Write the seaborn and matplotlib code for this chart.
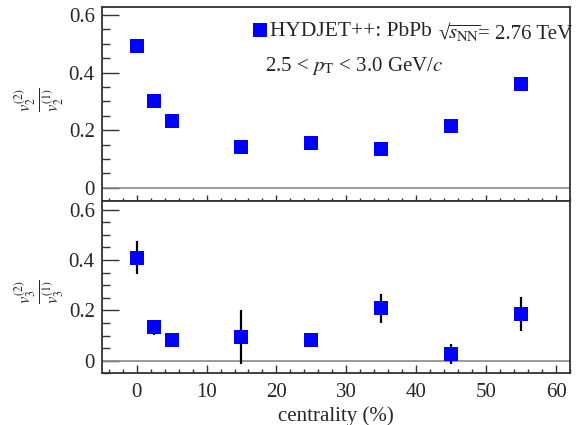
import numpy as np
import pandas as pd
import matplotlib
matplotlib.use("Agg")
import matplotlib.pyplot as plt
import seaborn as sns
from matplotlib.ticker import MultipleLocator

# values
centrality = [0, 2.5, 5, 15, 25, 35, 45, 55]
ratio_v2 = [0.491, 0.300, 0.231, 0.143, 0.157, 0.136, 0.216, 0.359]
err_v2 = [0.004, 0.004, 0.004, 0.004, 0.004, 0.004, 0.004, 0.004]
ratio_v3 = [0.410, 0.133, 0.083, 0.095, 0.082, 0.208, 0.027, 0.185]
err_v3 = [0.065, 0.030, 0.010, 0.108, 0.006, 0.058, 0.041, 0.067]

xticks = [0, 10, 20, 30, 40, 50, 60]
yticks = [0, 0.2, 0.4, 0.6]

legend_label = "HYDJET++: PbPb"
root_sign = "\u221a"
snn_label = r"$\overline{s_{\rm NN}}$"
energy_label = "= 2.76 TeV"
pt_label = r"2.5 < $p_{\rm T}$ < 3.0 GeV/$c$"

sns.set_theme(style="ticks")
plt.rcParams["font.family"] = ["Liberation Serif", "DejaVu Serif"]
plt.rcParams["mathtext.fontset"] = "stix"

df = pd.DataFrame({"centrality": centrality, "v2": ratio_v2, "e2": err_v2,
                   "v3": ratio_v3, "e3": err_v3})

W, H = 581, 425
fig = plt.figure(figsize=(W / 100, H / 100), dpi=100)
left, right = 101.7 / W, 570 / W
ax1 = fig.add_axes([left, 1 - 200.7 / H, right - left, (200.7 - 6.7) / H])
ax2 = fig.add_axes([left, 1 - 373.3 / H, right - left, (373.3 - 200.7) / H])

blue = "#0000ff"
frame = "#333333"

for ax, col, ecol, ylim in [(ax1, "v2", "e2", (-0.045, 0.629)),
                           (ax2, "v3", "e3", (-0.05, 0.636))]:
    ax.axhline(0, color="#8a8a8a", lw=1.2, zorder=1)
    ax.errorbar(df["centrality"], df[col], yerr=df[ecol], fmt="none",
                ecolor="black", elinewidth=1.6, capsize=0, zorder=2)
    sns.scatterplot(data=df, x="centrality", y=col, marker="s", s=100,
                    color=blue, linewidth=0, ax=ax, zorder=3,
                    label=legend_label if ax is ax1 else None)
    ax.set_xlim(-5, 62)
    ax.set_ylim(*ylim)
    ax.set_yticks(yticks)
    ax.set_yticklabels(["0", "0.2", "0.4", "0.6"])
    ax.yaxis.set_minor_locator(MultipleLocator(0.05))
    ax.set_xticks(xticks)
    ax.xaxis.set_minor_locator(MultipleLocator(2))
    for s in ax.spines.values():
        s.set_color(frame)
        s.set_linewidth(1.3)
    ax.tick_params(axis="y", which="major", direction="in", length=12,
                   width=1.0, color=frame, labelsize=15, pad=5, right=False)
    ax.tick_params(axis="y", which="minor", direction="in", length=6,
                   width=1.0, color=frame, right=False)
    ax.set_xlabel("")
    ax.set_ylabel("")

ax1.tick_params(axis="x", which="major", direction="in", length=4, width=1.0,
                color=frame, labelbottom=False, top=False)
ax1.tick_params(axis="x", which="minor", direction="in", length=2, width=1.0,
                color=frame, top=False)
ax2.tick_params(axis="x", which="major", direction="in", length=6, width=1.0,
                color=frame, labelsize=15, pad=7, top=False)
ax2.tick_params(axis="x", which="minor", direction="in", length=3, width=1.0,
                color=frame, top=False)

ax2.set_xlabel("centrality (%)", fontsize=15, labelpad=3)

fig.text(40 / W, 1 - 100 / H, r"$\frac{v_2^{(2)}}{v_2^{(1)}}$", fontsize=17,
         rotation=90, ha="center", va="center")
fig.text(40 / W, 1 - 292 / H, r"$\frac{v_3^{(2)}}{v_3^{(1)}}$", fontsize=17,
         rotation=90, ha="center", va="center")

leg = ax1.legend(loc="upper left", bbox_to_anchor=(250 / W, 1 - 21 / H),
                 bbox_transform=fig.transFigure, frameon=False, fontsize=15.5,
                 borderpad=0, borderaxespad=0, handlelength=0.9,
                 handletextpad=0.05, markerscale=1.0)
fig.text(438 / W, 1 - 39 / H, root_sign, fontsize=15, ha="left", va="baseline")
fig.text(448 / W, 1 - 39 / H, snn_label, fontsize=15, ha="left", va="baseline")
fig.text(478 / W, 1 - 39 / H, energy_label, fontsize=15, ha="left", va="baseline")
fig.text(265 / W, 1 - 71 / H, pt_label, fontsize=15, ha="left", va="baseline")

fig.savefig("out.png", dpi=100)
